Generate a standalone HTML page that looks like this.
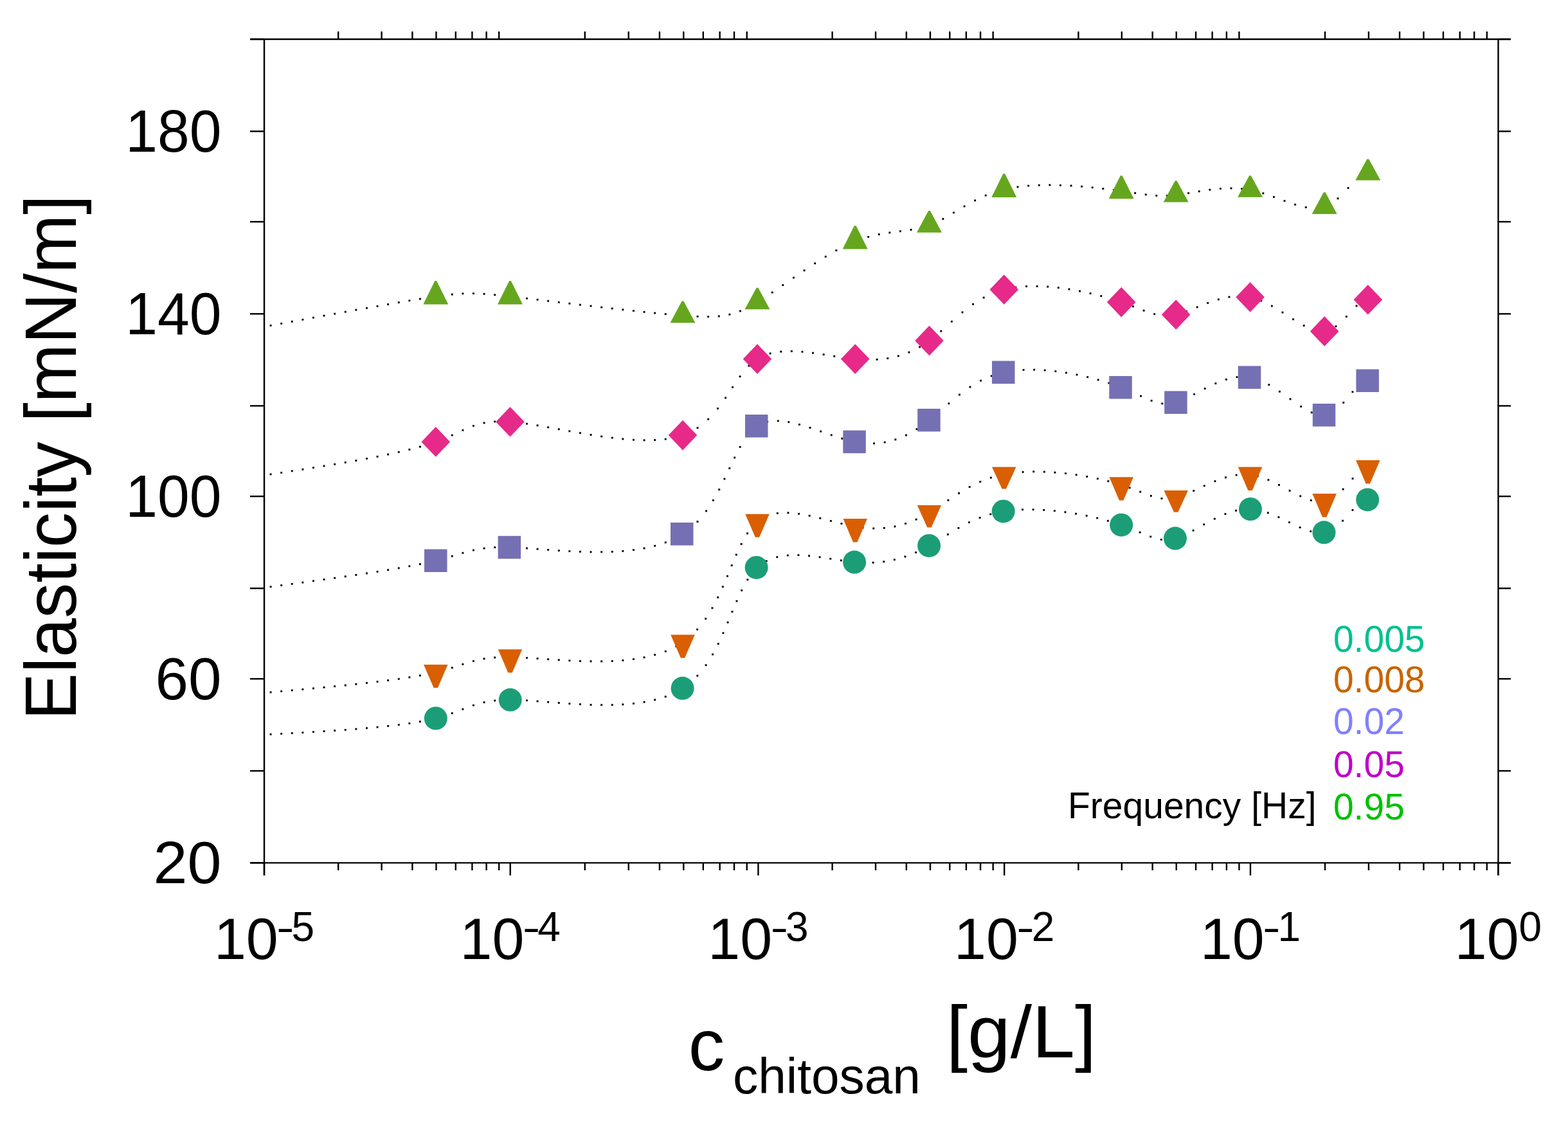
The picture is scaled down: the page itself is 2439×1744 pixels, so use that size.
<!DOCTYPE html>
<html><head><meta charset="utf-8"><title>Elasticity vs chitosan concentration</title>
<style>html,body{margin:0;padding:0;background:#fff;overflow:hidden}svg{display:block}</style></head>
<body>
<svg width="2439" height="1744" viewBox="0 0 2439 1744">
<rect width="2439" height="1744" fill="#fff"/>
<g fill="#000"><rect x="419.6" y="504.9" width="2.9" height="2.9"/><rect x="436.2" y="501.9" width="2.9" height="2.9"/><rect x="452.8" y="498.8" width="2.9" height="2.9"/><rect x="469.4" y="495.8" width="2.9" height="2.9"/><rect x="486.0" y="492.7" width="2.9" height="2.9"/><rect x="502.6" y="489.7" width="2.9" height="2.9"/><rect x="519.2" y="486.7" width="2.9" height="2.9"/><rect x="535.8" y="483.7" width="2.9" height="2.9"/><rect x="552.4" y="480.7" width="2.9" height="2.9"/><rect x="569.0" y="477.8" width="2.9" height="2.9"/><rect x="585.6" y="474.9" width="2.9" height="2.9"/><rect x="602.2" y="472.0" width="2.9" height="2.9"/><rect x="618.8" y="469.1" width="2.9" height="2.9"/><rect x="635.4" y="466.3" width="2.9" height="2.9"/><rect x="652.0" y="463.6" width="2.9" height="2.9"/><rect x="668.6" y="461.1" width="2.9" height="2.9"/><rect x="685.2" y="458.6" width="2.9" height="2.9"/><rect x="701.8" y="456.6" width="2.9" height="2.9"/><rect x="718.4" y="455.3" width="2.9" height="2.9"/><rect x="735.0" y="455.1" width="2.9" height="2.9"/><rect x="751.6" y="455.8" width="2.9" height="2.9"/><rect x="768.2" y="457.3" width="2.9" height="2.9"/><rect x="784.8" y="459.0" width="2.9" height="2.9"/><rect x="801.4" y="460.9" width="2.9" height="2.9"/><rect x="818.0" y="462.8" width="2.9" height="2.9"/><rect x="834.6" y="464.8" width="2.9" height="2.9"/><rect x="851.2" y="466.8" width="2.9" height="2.9"/><rect x="867.8" y="468.8" width="2.9" height="2.9"/><rect x="884.4" y="470.7" width="2.9" height="2.9"/><rect x="901.0" y="472.7" width="2.9" height="2.9"/><rect x="917.6" y="474.6" width="2.9" height="2.9"/><rect x="934.2" y="476.6" width="2.9" height="2.9"/><rect x="950.8" y="478.5" width="2.9" height="2.9"/><rect x="967.4" y="480.3" width="2.9" height="2.9"/><rect x="984.0" y="482.1" width="2.9" height="2.9"/><rect x="1000.6" y="483.9" width="2.9" height="2.9"/><rect x="1017.2" y="485.6" width="2.9" height="2.9"/><rect x="1033.8" y="487.2" width="2.9" height="2.9"/><rect x="1050.4" y="488.7" width="2.9" height="2.9"/><rect x="1067.0" y="490.0" width="2.9" height="2.9"/><rect x="1083.6" y="490.9" width="2.9" height="2.9"/><rect x="1100.2" y="491.3" width="2.9" height="2.9"/><rect x="1116.8" y="490.5" width="2.9" height="2.9"/><rect x="1133.4" y="487.8" width="2.9" height="2.9"/><rect x="1150.0" y="482.5" width="2.9" height="2.9"/><rect x="1166.6" y="474.5" width="2.9" height="2.9"/><rect x="1183.2" y="464.5" width="2.9" height="2.9"/><rect x="1199.8" y="453.5" width="2.9" height="2.9"/><rect x="1216.4" y="442.1" width="2.9" height="2.9"/><rect x="1233.0" y="430.6" width="2.9" height="2.9"/><rect x="1249.6" y="419.3" width="2.9" height="2.9"/><rect x="1266.2" y="408.3" width="2.9" height="2.9"/><rect x="1282.8" y="397.8" width="2.9" height="2.9"/><rect x="1299.4" y="388.2" width="2.9" height="2.9"/><rect x="1316.0" y="379.7" width="2.9" height="2.9"/><rect x="1332.6" y="372.5" width="2.9" height="2.9"/><rect x="1349.2" y="367.1" width="2.9" height="2.9"/><rect x="1365.8" y="363.2" width="2.9" height="2.9"/><rect x="1382.4" y="360.5" width="2.9" height="2.9"/><rect x="1399.0" y="358.3" width="2.9" height="2.9"/><rect x="1415.6" y="356.0" width="2.9" height="2.9"/><rect x="1432.2" y="352.7" width="2.9" height="2.9"/><rect x="1448.8" y="347.2" width="2.9" height="2.9"/><rect x="1465.4" y="339.1" width="2.9" height="2.9"/><rect x="1482.0" y="329.4" width="2.9" height="2.9"/><rect x="1498.6" y="319.5" width="2.9" height="2.9"/><rect x="1515.2" y="310.4" width="2.9" height="2.9"/><rect x="1531.8" y="302.6" width="2.9" height="2.9"/><rect x="1548.4" y="296.6" width="2.9" height="2.9"/><rect x="1565.0" y="292.2" width="2.9" height="2.9"/><rect x="1581.6" y="289.4" width="2.9" height="2.9"/><rect x="1598.2" y="287.6" width="2.9" height="2.9"/><rect x="1614.8" y="286.7" width="2.9" height="2.9"/><rect x="1631.4" y="286.4" width="2.9" height="2.9"/><rect x="1648.0" y="286.8" width="2.9" height="2.9"/><rect x="1664.6" y="287.5" width="2.9" height="2.9"/><rect x="1681.2" y="288.7" width="2.9" height="2.9"/><rect x="1697.8" y="290.3" width="2.9" height="2.9"/><rect x="1714.4" y="292.1" width="2.9" height="2.9"/><rect x="1731.0" y="294.2" width="2.9" height="2.9"/><rect x="1747.6" y="296.5" width="2.9" height="2.9"/><rect x="1764.2" y="299.0" width="2.9" height="2.9"/><rect x="1780.8" y="301.3" width="2.9" height="2.9"/><rect x="1797.4" y="302.9" width="2.9" height="2.9"/><rect x="1814.0" y="303.1" width="2.9" height="2.9"/><rect x="1830.6" y="301.7" width="2.9" height="2.9"/><rect x="1847.2" y="299.1" width="2.9" height="2.9"/><rect x="1863.8" y="296.3" width="2.9" height="2.9"/><rect x="1880.4" y="293.8" width="2.9" height="2.9"/><rect x="1897.0" y="292.1" width="2.9" height="2.9"/><rect x="1913.6" y="291.5" width="2.9" height="2.9"/><rect x="1930.2" y="292.3" width="2.9" height="2.9"/><rect x="1946.8" y="294.9" width="2.9" height="2.9"/><rect x="1963.4" y="299.3" width="2.9" height="2.9"/><rect x="1980.0" y="305.0" width="2.9" height="2.9"/><rect x="1996.6" y="311.0" width="2.9" height="2.9"/><rect x="2013.2" y="316.8" width="2.9" height="2.9"/><rect x="2029.8" y="321.1" width="2.9" height="2.9"/><rect x="2046.4" y="322.5" width="2.9" height="2.9"/><rect x="2063.0" y="318.6" width="2.9" height="2.9"/><rect x="2079.6" y="307.3" width="2.9" height="2.9"/><rect x="2095.6" y="291.0" width="2.9" height="2.9"/><rect x="2111.6" y="274.9" width="2.9" height="2.9"/><rect x="419.6" y="736.4" width="2.9" height="2.9"/><rect x="436.2" y="733.9" width="2.9" height="2.9"/><rect x="452.8" y="731.3" width="2.9" height="2.9"/><rect x="469.4" y="728.8" width="2.9" height="2.9"/><rect x="486.0" y="726.2" width="2.9" height="2.9"/><rect x="502.6" y="723.5" width="2.9" height="2.9"/><rect x="519.2" y="720.8" width="2.9" height="2.9"/><rect x="535.8" y="718.0" width="2.9" height="2.9"/><rect x="552.4" y="715.1" width="2.9" height="2.9"/><rect x="569.0" y="712.0" width="2.9" height="2.9"/><rect x="585.6" y="708.9" width="2.9" height="2.9"/><rect x="602.2" y="705.5" width="2.9" height="2.9"/><rect x="618.8" y="701.8" width="2.9" height="2.9"/><rect x="635.4" y="697.9" width="2.9" height="2.9"/><rect x="652.0" y="693.6" width="2.9" height="2.9"/><rect x="668.6" y="688.6" width="2.9" height="2.9"/><rect x="685.2" y="682.6" width="2.9" height="2.9"/><rect x="701.8" y="675.6" width="2.9" height="2.9"/><rect x="718.4" y="667.9" width="2.9" height="2.9"/><rect x="735.0" y="661.1" width="2.9" height="2.9"/><rect x="751.6" y="656.5" width="2.9" height="2.9"/><rect x="768.2" y="654.4" width="2.9" height="2.9"/><rect x="784.8" y="654.3" width="2.9" height="2.9"/><rect x="801.4" y="655.6" width="2.9" height="2.9"/><rect x="818.0" y="657.8" width="2.9" height="2.9"/><rect x="834.6" y="660.4" width="2.9" height="2.9"/><rect x="851.2" y="663.3" width="2.9" height="2.9"/><rect x="867.8" y="666.3" width="2.9" height="2.9"/><rect x="884.4" y="669.3" width="2.9" height="2.9"/><rect x="901.0" y="672.2" width="2.9" height="2.9"/><rect x="917.6" y="675.0" width="2.9" height="2.9"/><rect x="934.2" y="677.5" width="2.9" height="2.9"/><rect x="950.8" y="679.7" width="2.9" height="2.9"/><rect x="967.4" y="681.5" width="2.9" height="2.9"/><rect x="984.0" y="682.8" width="2.9" height="2.9"/><rect x="1000.6" y="683.4" width="2.9" height="2.9"/><rect x="1017.2" y="683.1" width="2.9" height="2.9"/><rect x="1033.8" y="681.7" width="2.9" height="2.9"/><rect x="1050.4" y="678.6" width="2.9" height="2.9"/><rect x="1067.0" y="673.2" width="2.9" height="2.9"/><rect x="1083.6" y="664.2" width="2.9" height="2.9"/><rect x="1100.2" y="650.7" width="2.9" height="2.9"/><rect x="1115.0" y="634.1" width="2.9" height="2.9"/><rect x="1127.1" y="617.5" width="2.9" height="2.9"/><rect x="1138.1" y="600.9" width="2.9" height="2.9"/><rect x="1149.6" y="584.3" width="2.9" height="2.9"/><rect x="1163.5" y="567.7" width="2.9" height="2.9"/><rect x="1180.1" y="555.0" width="2.9" height="2.9"/><rect x="1196.7" y="548.4" width="2.9" height="2.9"/><rect x="1213.3" y="545.6" width="2.9" height="2.9"/><rect x="1229.9" y="545.0" width="2.9" height="2.9"/><rect x="1246.5" y="545.8" width="2.9" height="2.9"/><rect x="1263.1" y="547.7" width="2.9" height="2.9"/><rect x="1279.7" y="550.1" width="2.9" height="2.9"/><rect x="1296.3" y="552.7" width="2.9" height="2.9"/><rect x="1312.9" y="555.2" width="2.9" height="2.9"/><rect x="1329.5" y="557.1" width="2.9" height="2.9"/><rect x="1346.1" y="558.1" width="2.9" height="2.9"/><rect x="1362.7" y="557.8" width="2.9" height="2.9"/><rect x="1379.3" y="556.0" width="2.9" height="2.9"/><rect x="1395.9" y="552.4" width="2.9" height="2.9"/><rect x="1412.5" y="546.6" width="2.9" height="2.9"/><rect x="1429.1" y="538.4" width="2.9" height="2.9"/><rect x="1445.7" y="527.3" width="2.9" height="2.9"/><rect x="1462.3" y="513.7" width="2.9" height="2.9"/><rect x="1478.9" y="498.8" width="2.9" height="2.9"/><rect x="1495.5" y="484.4" width="2.9" height="2.9"/><rect x="1512.1" y="471.8" width="2.9" height="2.9"/><rect x="1528.7" y="461.6" width="2.9" height="2.9"/><rect x="1545.3" y="453.9" width="2.9" height="2.9"/><rect x="1561.9" y="448.7" width="2.9" height="2.9"/><rect x="1578.5" y="445.6" width="2.9" height="2.9"/><rect x="1595.1" y="444.1" width="2.9" height="2.9"/><rect x="1611.7" y="443.9" width="2.9" height="2.9"/><rect x="1628.3" y="444.6" width="2.9" height="2.9"/><rect x="1644.9" y="446.2" width="2.9" height="2.9"/><rect x="1661.5" y="448.5" width="2.9" height="2.9"/><rect x="1678.1" y="451.5" width="2.9" height="2.9"/><rect x="1694.7" y="455.0" width="2.9" height="2.9"/><rect x="1711.3" y="459.1" width="2.9" height="2.9"/><rect x="1727.9" y="463.9" width="2.9" height="2.9"/><rect x="1744.5" y="469.2" width="2.9" height="2.9"/><rect x="1761.1" y="475.3" width="2.9" height="2.9"/><rect x="1777.7" y="481.7" width="2.9" height="2.9"/><rect x="1794.3" y="487.2" width="2.9" height="2.9"/><rect x="1810.9" y="489.8" width="2.9" height="2.9"/><rect x="1827.5" y="488.1" width="2.9" height="2.9"/><rect x="1844.1" y="482.9" width="2.9" height="2.9"/><rect x="1860.7" y="476.4" width="2.9" height="2.9"/><rect x="1877.3" y="469.9" width="2.9" height="2.9"/><rect x="1893.9" y="464.4" width="2.9" height="2.9"/><rect x="1910.5" y="460.6" width="2.9" height="2.9"/><rect x="1927.1" y="459.2" width="2.9" height="2.9"/><rect x="1943.7" y="461.0" width="2.9" height="2.9"/><rect x="1960.3" y="466.4" width="2.9" height="2.9"/><rect x="1976.9" y="474.6" width="2.9" height="2.9"/><rect x="1993.5" y="484.6" width="2.9" height="2.9"/><rect x="2010.1" y="495.3" width="2.9" height="2.9"/><rect x="2026.7" y="505.2" width="2.9" height="2.9"/><rect x="2043.3" y="512.3" width="2.9" height="2.9"/><rect x="2059.9" y="513.8" width="2.9" height="2.9"/><rect x="2076.5" y="506.2" width="2.9" height="2.9"/><rect x="2092.9" y="491.1" width="2.9" height="2.9"/><rect x="2108.6" y="474.5" width="2.9" height="2.9"/><rect x="2125.2" y="464.8" width="2.9" height="2.9"/><rect x="419.6" y="911.4" width="2.9" height="2.9"/><rect x="436.2" y="909.2" width="2.9" height="2.9"/><rect x="452.8" y="907.0" width="2.9" height="2.9"/><rect x="469.4" y="904.7" width="2.9" height="2.9"/><rect x="486.0" y="902.4" width="2.9" height="2.9"/><rect x="502.6" y="900.1" width="2.9" height="2.9"/><rect x="519.2" y="897.8" width="2.9" height="2.9"/><rect x="535.8" y="895.4" width="2.9" height="2.9"/><rect x="552.4" y="893.0" width="2.9" height="2.9"/><rect x="569.0" y="890.5" width="2.9" height="2.9"/><rect x="585.6" y="887.9" width="2.9" height="2.9"/><rect x="602.2" y="885.2" width="2.9" height="2.9"/><rect x="618.8" y="882.4" width="2.9" height="2.9"/><rect x="635.4" y="879.4" width="2.9" height="2.9"/><rect x="652.0" y="876.2" width="2.9" height="2.9"/><rect x="668.6" y="872.6" width="2.9" height="2.9"/><rect x="685.2" y="868.5" width="2.9" height="2.9"/><rect x="701.8" y="863.8" width="2.9" height="2.9"/><rect x="718.4" y="858.8" width="2.9" height="2.9"/><rect x="735.0" y="854.5" width="2.9" height="2.9"/><rect x="751.6" y="851.6" width="2.9" height="2.9"/><rect x="768.2" y="850.1" width="2.9" height="2.9"/><rect x="784.8" y="849.9" width="2.9" height="2.9"/><rect x="801.4" y="850.4" width="2.9" height="2.9"/><rect x="818.0" y="851.5" width="2.9" height="2.9"/><rect x="834.6" y="852.7" width="2.9" height="2.9"/><rect x="851.2" y="853.9" width="2.9" height="2.9"/><rect x="867.8" y="855.1" width="2.9" height="2.9"/><rect x="884.4" y="856.1" width="2.9" height="2.9"/><rect x="901.0" y="856.8" width="2.9" height="2.9"/><rect x="917.6" y="857.3" width="2.9" height="2.9"/><rect x="934.2" y="857.3" width="2.9" height="2.9"/><rect x="950.8" y="856.9" width="2.9" height="2.9"/><rect x="967.4" y="855.9" width="2.9" height="2.9"/><rect x="984.0" y="854.1" width="2.9" height="2.9"/><rect x="1000.6" y="851.5" width="2.9" height="2.9"/><rect x="1017.2" y="847.8" width="2.9" height="2.9"/><rect x="1033.8" y="842.5" width="2.9" height="2.9"/><rect x="1050.4" y="835.3" width="2.9" height="2.9"/><rect x="1067.0" y="824.9" width="2.9" height="2.9"/><rect x="1083.5" y="810.1" width="2.9" height="2.9"/><rect x="1097.1" y="793.5" width="2.9" height="2.9"/><rect x="1108.0" y="776.9" width="2.9" height="2.9"/><rect x="1117.3" y="760.2" width="2.9" height="2.9"/><rect x="1125.5" y="743.6" width="2.9" height="2.9"/><rect x="1133.3" y="727.0" width="2.9" height="2.9"/><rect x="1141.2" y="710.5" width="2.9" height="2.9"/><rect x="1149.7" y="693.9" width="2.9" height="2.9"/><rect x="1160.2" y="677.3" width="2.9" height="2.9"/><rect x="1175.6" y="661.9" width="2.9" height="2.9"/><rect x="1192.2" y="654.8" width="2.9" height="2.9"/><rect x="1208.8" y="653.4" width="2.9" height="2.9"/><rect x="1225.4" y="655.2" width="2.9" height="2.9"/><rect x="1242.0" y="659.0" width="2.9" height="2.9"/><rect x="1258.6" y="664.0" width="2.9" height="2.9"/><rect x="1275.2" y="669.7" width="2.9" height="2.9"/><rect x="1291.8" y="675.4" width="2.9" height="2.9"/><rect x="1308.4" y="680.8" width="2.9" height="2.9"/><rect x="1325.0" y="685.2" width="2.9" height="2.9"/><rect x="1341.6" y="687.8" width="2.9" height="2.9"/><rect x="1358.1" y="688.4" width="2.9" height="2.9"/><rect x="1374.8" y="686.6" width="2.9" height="2.9"/><rect x="1391.4" y="682.4" width="2.9" height="2.9"/><rect x="1408.0" y="675.6" width="2.9" height="2.9"/><rect x="1424.6" y="666.2" width="2.9" height="2.9"/><rect x="1441.2" y="654.4" width="2.9" height="2.9"/><rect x="1457.8" y="640.7" width="2.9" height="2.9"/><rect x="1474.4" y="626.3" width="2.9" height="2.9"/><rect x="1491.0" y="612.6" width="2.9" height="2.9"/><rect x="1507.5" y="600.6" width="2.9" height="2.9"/><rect x="1524.1" y="590.8" width="2.9" height="2.9"/><rect x="1540.8" y="583.5" width="2.9" height="2.9"/><rect x="1557.4" y="578.4" width="2.9" height="2.9"/><rect x="1574.0" y="575.4" width="2.9" height="2.9"/><rect x="1590.6" y="574.0" width="2.9" height="2.9"/><rect x="1607.2" y="573.8" width="2.9" height="2.9"/><rect x="1623.8" y="574.6" width="2.9" height="2.9"/><rect x="1640.4" y="576.2" width="2.9" height="2.9"/><rect x="1657.0" y="578.5" width="2.9" height="2.9"/><rect x="1673.6" y="581.5" width="2.9" height="2.9"/><rect x="1690.2" y="585.2" width="2.9" height="2.9"/><rect x="1706.7" y="589.5" width="2.9" height="2.9"/><rect x="1723.4" y="594.5" width="2.9" height="2.9"/><rect x="1740.0" y="600.3" width="2.9" height="2.9"/><rect x="1756.5" y="607.1" width="2.9" height="2.9"/><rect x="1773.1" y="614.7" width="2.9" height="2.9"/><rect x="1789.7" y="621.9" width="2.9" height="2.9"/><rect x="1806.4" y="626.4" width="2.9" height="2.9"/><rect x="1823.0" y="625.8" width="2.9" height="2.9"/><rect x="1839.6" y="620.2" width="2.9" height="2.9"/><rect x="1856.2" y="611.9" width="2.9" height="2.9"/><rect x="1872.8" y="603.1" width="2.9" height="2.9"/><rect x="1889.4" y="595.1" width="2.9" height="2.9"/><rect x="1906.0" y="588.9" width="2.9" height="2.9"/><rect x="1922.6" y="585.2" width="2.9" height="2.9"/><rect x="1939.2" y="585.1" width="2.9" height="2.9"/><rect x="1955.8" y="589.2" width="2.9" height="2.9"/><rect x="1972.4" y="597.1" width="2.9" height="2.9"/><rect x="1989.0" y="607.7" width="2.9" height="2.9"/><rect x="2005.6" y="619.4" width="2.9" height="2.9"/><rect x="2022.2" y="631.0" width="2.9" height="2.9"/><rect x="2038.8" y="640.3" width="2.9" height="2.9"/><rect x="2055.4" y="644.5" width="2.9" height="2.9"/><rect x="2072.0" y="639.4" width="2.9" height="2.9"/><rect x="2088.3" y="624.9" width="2.9" height="2.9"/><rect x="2102.5" y="608.3" width="2.9" height="2.9"/><rect x="2118.3" y="593.3" width="2.9" height="2.9"/><rect x="419.6" y="1075.5" width="2.9" height="2.9"/><rect x="436.2" y="1074.0" width="2.9" height="2.9"/><rect x="452.8" y="1072.5" width="2.9" height="2.9"/><rect x="469.4" y="1071.0" width="2.9" height="2.9"/><rect x="486.0" y="1069.5" width="2.9" height="2.9"/><rect x="502.6" y="1067.9" width="2.9" height="2.9"/><rect x="519.2" y="1066.3" width="2.9" height="2.9"/><rect x="535.8" y="1064.7" width="2.9" height="2.9"/><rect x="552.4" y="1062.9" width="2.9" height="2.9"/><rect x="569.0" y="1061.1" width="2.9" height="2.9"/><rect x="585.6" y="1059.1" width="2.9" height="2.9"/><rect x="602.2" y="1057.0" width="2.9" height="2.9"/><rect x="618.8" y="1054.8" width="2.9" height="2.9"/><rect x="635.4" y="1052.3" width="2.9" height="2.9"/><rect x="652.0" y="1049.5" width="2.9" height="2.9"/><rect x="668.6" y="1046.2" width="2.9" height="2.9"/><rect x="685.2" y="1042.3" width="2.9" height="2.9"/><rect x="701.8" y="1037.4" width="2.9" height="2.9"/><rect x="718.4" y="1032.0" width="2.9" height="2.9"/><rect x="735.0" y="1027.0" width="2.9" height="2.9"/><rect x="751.6" y="1023.4" width="2.9" height="2.9"/><rect x="768.2" y="1021.5" width="2.9" height="2.9"/><rect x="784.8" y="1020.8" width="2.9" height="2.9"/><rect x="801.4" y="1021.1" width="2.9" height="2.9"/><rect x="818.0" y="1022.0" width="2.9" height="2.9"/><rect x="834.6" y="1023.1" width="2.9" height="2.9"/><rect x="851.2" y="1024.2" width="2.9" height="2.9"/><rect x="867.8" y="1025.3" width="2.9" height="2.9"/><rect x="884.4" y="1026.3" width="2.9" height="2.9"/><rect x="901.0" y="1027.0" width="2.9" height="2.9"/><rect x="917.6" y="1027.4" width="2.9" height="2.9"/><rect x="934.2" y="1027.4" width="2.9" height="2.9"/><rect x="950.8" y="1027.0" width="2.9" height="2.9"/><rect x="967.4" y="1025.9" width="2.9" height="2.9"/><rect x="984.0" y="1024.0" width="2.9" height="2.9"/><rect x="1000.6" y="1021.3" width="2.9" height="2.9"/><rect x="1017.2" y="1017.3" width="2.9" height="2.9"/><rect x="1033.8" y="1011.8" width="2.9" height="2.9"/><rect x="1050.4" y="1004.2" width="2.9" height="2.9"/><rect x="1067.0" y="993.2" width="2.9" height="2.9"/><rect x="1083.2" y="977.8" width="2.9" height="2.9"/><rect x="1096.2" y="961.1" width="2.9" height="2.9"/><rect x="1106.5" y="944.5" width="2.9" height="2.9"/><rect x="1115.2" y="927.9" width="2.9" height="2.9"/><rect x="1122.9" y="911.4" width="2.9" height="2.9"/><rect x="1130.0" y="894.8" width="2.9" height="2.9"/><rect x="1136.8" y="878.2" width="2.9" height="2.9"/><rect x="1143.9" y="861.6" width="2.9" height="2.9"/><rect x="1151.7" y="844.9" width="2.9" height="2.9"/><rect x="1161.1" y="828.4" width="2.9" height="2.9"/><rect x="1174.7" y="811.9" width="2.9" height="2.9"/><rect x="1191.3" y="801.4" width="2.9" height="2.9"/><rect x="1207.9" y="797.1" width="2.9" height="2.9"/><rect x="1224.5" y="796.4" width="2.9" height="2.9"/><rect x="1241.1" y="797.9" width="2.9" height="2.9"/><rect x="1257.7" y="800.9" width="2.9" height="2.9"/><rect x="1274.3" y="804.7" width="2.9" height="2.9"/><rect x="1290.9" y="809.0" width="2.9" height="2.9"/><rect x="1307.5" y="813.2" width="2.9" height="2.9"/><rect x="1324.1" y="816.9" width="2.9" height="2.9"/><rect x="1340.7" y="819.5" width="2.9" height="2.9"/><rect x="1357.3" y="820.6" width="2.9" height="2.9"/><rect x="1373.9" y="820.0" width="2.9" height="2.9"/><rect x="1390.5" y="817.6" width="2.9" height="2.9"/><rect x="1407.1" y="813.2" width="2.9" height="2.9"/><rect x="1423.7" y="806.7" width="2.9" height="2.9"/><rect x="1440.3" y="798.2" width="2.9" height="2.9"/><rect x="1456.9" y="787.9" width="2.9" height="2.9"/><rect x="1473.5" y="776.8" width="2.9" height="2.9"/><rect x="1490.1" y="765.9" width="2.9" height="2.9"/><rect x="1506.7" y="756.1" width="2.9" height="2.9"/><rect x="1523.3" y="748.0" width="2.9" height="2.9"/><rect x="1539.9" y="741.7" width="2.9" height="2.9"/><rect x="1556.5" y="737.2" width="2.9" height="2.9"/><rect x="1573.1" y="734.4" width="2.9" height="2.9"/><rect x="1589.7" y="732.9" width="2.9" height="2.9"/><rect x="1606.3" y="732.3" width="2.9" height="2.9"/><rect x="1622.9" y="732.6" width="2.9" height="2.9"/><rect x="1639.5" y="733.6" width="2.9" height="2.9"/><rect x="1656.1" y="735.1" width="2.9" height="2.9"/><rect x="1672.7" y="737.3" width="2.9" height="2.9"/><rect x="1689.3" y="740.0" width="2.9" height="2.9"/><rect x="1705.9" y="743.3" width="2.9" height="2.9"/><rect x="1722.5" y="747.2" width="2.9" height="2.9"/><rect x="1739.1" y="751.8" width="2.9" height="2.9"/><rect x="1755.7" y="757.4" width="2.9" height="2.9"/><rect x="1772.3" y="763.7" width="2.9" height="2.9"/><rect x="1788.9" y="770.0" width="2.9" height="2.9"/><rect x="1805.5" y="774.1" width="2.9" height="2.9"/><rect x="1822.1" y="774.0" width="2.9" height="2.9"/><rect x="1838.7" y="769.3" width="2.9" height="2.9"/><rect x="1855.3" y="762.1" width="2.9" height="2.9"/><rect x="1871.9" y="754.4" width="2.9" height="2.9"/><rect x="1888.5" y="747.2" width="2.9" height="2.9"/><rect x="1905.1" y="741.3" width="2.9" height="2.9"/><rect x="1921.7" y="737.6" width="2.9" height="2.9"/><rect x="1938.3" y="736.7" width="2.9" height="2.9"/><rect x="1954.9" y="739.4" width="2.9" height="2.9"/><rect x="1971.5" y="745.2" width="2.9" height="2.9"/><rect x="1988.1" y="753.0" width="2.9" height="2.9"/><rect x="2004.7" y="761.9" width="2.9" height="2.9"/><rect x="2021.3" y="770.4" width="2.9" height="2.9"/><rect x="2037.9" y="777.0" width="2.9" height="2.9"/><rect x="2054.5" y="779.3" width="2.9" height="2.9"/><rect x="2071.1" y="773.8" width="2.9" height="2.9"/><rect x="2087.7" y="759.7" width="2.9" height="2.9"/><rect x="2102.6" y="743.1" width="2.9" height="2.9"/><rect x="2118.9" y="728.8" width="2.9" height="2.9"/><rect x="419.6" y="1141.0" width="2.9" height="2.9"/><rect x="436.2" y="1140.1" width="2.9" height="2.9"/><rect x="452.8" y="1139.2" width="2.9" height="2.9"/><rect x="469.4" y="1138.3" width="2.9" height="2.9"/><rect x="486.0" y="1137.3" width="2.9" height="2.9"/><rect x="502.6" y="1136.2" width="2.9" height="2.9"/><rect x="519.2" y="1135.2" width="2.9" height="2.9"/><rect x="535.8" y="1134.0" width="2.9" height="2.9"/><rect x="552.4" y="1132.7" width="2.9" height="2.9"/><rect x="569.0" y="1131.3" width="2.9" height="2.9"/><rect x="585.6" y="1129.8" width="2.9" height="2.9"/><rect x="602.2" y="1128.1" width="2.9" height="2.9"/><rect x="618.8" y="1126.1" width="2.9" height="2.9"/><rect x="635.4" y="1123.9" width="2.9" height="2.9"/><rect x="652.0" y="1121.2" width="2.9" height="2.9"/><rect x="668.6" y="1117.9" width="2.9" height="2.9"/><rect x="685.2" y="1113.7" width="2.9" height="2.9"/><rect x="701.8" y="1108.2" width="2.9" height="2.9"/><rect x="718.4" y="1101.9" width="2.9" height="2.9"/><rect x="735.0" y="1095.8" width="2.9" height="2.9"/><rect x="751.6" y="1091.2" width="2.9" height="2.9"/><rect x="768.2" y="1088.5" width="2.9" height="2.9"/><rect x="784.8" y="1087.4" width="2.9" height="2.9"/><rect x="801.4" y="1087.5" width="2.9" height="2.9"/><rect x="818.0" y="1088.3" width="2.9" height="2.9"/><rect x="834.6" y="1089.5" width="2.9" height="2.9"/><rect x="851.2" y="1090.8" width="2.9" height="2.9"/><rect x="867.8" y="1092.1" width="2.9" height="2.9"/><rect x="884.4" y="1093.3" width="2.9" height="2.9"/><rect x="901.0" y="1094.2" width="2.9" height="2.9"/><rect x="917.6" y="1095.0" width="2.9" height="2.9"/><rect x="934.2" y="1095.3" width="2.9" height="2.9"/><rect x="950.8" y="1095.2" width="2.9" height="2.9"/><rect x="967.4" y="1094.5" width="2.9" height="2.9"/><rect x="984.0" y="1093.1" width="2.9" height="2.9"/><rect x="1000.6" y="1090.8" width="2.9" height="2.9"/><rect x="1017.2" y="1087.3" width="2.9" height="2.9"/><rect x="1033.8" y="1082.4" width="2.9" height="2.9"/><rect x="1050.4" y="1075.2" width="2.9" height="2.9"/><rect x="1067.0" y="1064.9" width="2.9" height="2.9"/><rect x="1083.4" y="1049.8" width="2.9" height="2.9"/><rect x="1096.6" y="1033.3" width="2.9" height="2.9"/><rect x="1107.1" y="1016.6" width="2.9" height="2.9"/><rect x="1115.8" y="1000.1" width="2.9" height="2.9"/><rect x="1123.5" y="983.4" width="2.9" height="2.9"/><rect x="1130.6" y="966.8" width="2.9" height="2.9"/><rect x="1137.5" y="950.2" width="2.9" height="2.9"/><rect x="1144.5" y="933.7" width="2.9" height="2.9"/><rect x="1152.2" y="917.1" width="2.9" height="2.9"/><rect x="1161.4" y="900.4" width="2.9" height="2.9"/><rect x="1174.1" y="883.8" width="2.9" height="2.9"/><rect x="1190.7" y="871.4" width="2.9" height="2.9"/><rect x="1207.3" y="865.2" width="2.9" height="2.9"/><rect x="1223.9" y="862.6" width="2.9" height="2.9"/><rect x="1240.5" y="862.2" width="2.9" height="2.9"/><rect x="1257.1" y="863.3" width="2.9" height="2.9"/><rect x="1273.7" y="865.3" width="2.9" height="2.9"/><rect x="1290.3" y="867.8" width="2.9" height="2.9"/><rect x="1306.9" y="870.4" width="2.9" height="2.9"/><rect x="1323.5" y="872.6" width="2.9" height="2.9"/><rect x="1340.1" y="873.9" width="2.9" height="2.9"/><rect x="1356.7" y="873.8" width="2.9" height="2.9"/><rect x="1373.3" y="872.4" width="2.9" height="2.9"/><rect x="1389.9" y="869.3" width="2.9" height="2.9"/><rect x="1406.5" y="864.5" width="2.9" height="2.9"/><rect x="1423.1" y="858.0" width="2.9" height="2.9"/><rect x="1439.7" y="849.9" width="2.9" height="2.9"/><rect x="1456.3" y="840.2" width="2.9" height="2.9"/><rect x="1472.9" y="830.0" width="2.9" height="2.9"/><rect x="1489.5" y="820.0" width="2.9" height="2.9"/><rect x="1506.1" y="811.2" width="2.9" height="2.9"/><rect x="1522.7" y="804.0" width="2.9" height="2.9"/><rect x="1539.3" y="798.5" width="2.9" height="2.9"/><rect x="1555.9" y="794.7" width="2.9" height="2.9"/><rect x="1572.5" y="792.4" width="2.9" height="2.9"/><rect x="1589.1" y="791.4" width="2.9" height="2.9"/><rect x="1605.7" y="791.3" width="2.9" height="2.9"/><rect x="1622.3" y="792.0" width="2.9" height="2.9"/><rect x="1638.9" y="793.3" width="2.9" height="2.9"/><rect x="1655.5" y="795.3" width="2.9" height="2.9"/><rect x="1672.1" y="797.8" width="2.9" height="2.9"/><rect x="1688.7" y="800.9" width="2.9" height="2.9"/><rect x="1705.3" y="804.5" width="2.9" height="2.9"/><rect x="1721.9" y="808.8" width="2.9" height="2.9"/><rect x="1738.5" y="813.8" width="2.9" height="2.9"/><rect x="1755.1" y="819.8" width="2.9" height="2.9"/><rect x="1771.7" y="826.7" width="2.9" height="2.9"/><rect x="1788.3" y="833.5" width="2.9" height="2.9"/><rect x="1804.9" y="838.0" width="2.9" height="2.9"/><rect x="1821.5" y="837.7" width="2.9" height="2.9"/><rect x="1838.1" y="832.2" width="2.9" height="2.9"/><rect x="1854.7" y="823.8" width="2.9" height="2.9"/><rect x="1871.3" y="814.5" width="2.9" height="2.9"/><rect x="1887.9" y="805.7" width="2.9" height="2.9"/><rect x="1904.5" y="798.2" width="2.9" height="2.9"/><rect x="1921.1" y="792.9" width="2.9" height="2.9"/><rect x="1937.7" y="790.5" width="2.9" height="2.9"/><rect x="1954.3" y="791.8" width="2.9" height="2.9"/><rect x="1970.9" y="796.4" width="2.9" height="2.9"/><rect x="1987.5" y="803.2" width="2.9" height="2.9"/><rect x="2004.1" y="811.2" width="2.9" height="2.9"/><rect x="2020.7" y="819.1" width="2.9" height="2.9"/><rect x="2037.3" y="825.2" width="2.9" height="2.9"/><rect x="2053.9" y="827.5" width="2.9" height="2.9"/><rect x="2070.5" y="822.2" width="2.9" height="2.9"/><rect x="2087.1" y="808.7" width="2.9" height="2.9"/><rect x="2102.5" y="792.1" width="2.9" height="2.9"/><rect x="2118.9" y="778.0" width="2.9" height="2.9"/></g>
<g><polygon fill="#66a61e" points="676.4,437.0 679.2,437.0 697.3,473.5 658.3,473.5"/><polygon fill="#66a61e" points="792.1,437.0 794.9,437.0 813.0,473.4 774.0,473.4"/><polygon fill="#66a61e" points="1060.6,468.4 1063.4,468.4 1081.5,502.2 1042.5,502.2"/><polygon fill="#66a61e" points="1176.6,447.7 1179.4,447.7 1197.5,481.3 1158.5,481.3"/><polygon fill="#66a61e" points="1328.8,351.2 1331.6,351.2 1349.7,387.6 1310.7,387.6"/><polygon fill="#66a61e" points="1444.1,328.0 1446.9,328.0 1465.0,361.8 1426.0,361.8"/><polygon fill="#66a61e" points="1560.4,270.3 1563.2,270.3 1581.3,306.9 1542.3,306.9"/><polygon fill="#66a61e" points="1742.8,273.2 1745.6,273.2 1763.7,309.3 1724.7,309.3"/><polygon fill="#66a61e" points="1827.8,281.2 1830.6,281.2 1848.7,314.6 1809.7,314.6"/><polygon fill="#66a61e" points="1943.2,273.2 1946.0,273.2 1964.1,306.8 1925.1,306.8"/><polygon fill="#66a61e" points="2058.8,299.2 2061.6,299.2 2079.7,333.0 2040.7,333.0"/><polygon fill="#66a61e" points="2126.4,247.4 2129.2,247.4 2147.3,280.6 2108.3,280.6"/><polygon fill="#d95f02" points="659.0,1033.9 696.5,1033.9 681.0,1070.0 674.6,1070.0"/><polygon fill="#d95f02" points="774.8,1010.2 812.2,1010.2 796.7,1046.5 790.3,1046.5"/><polygon fill="#d95f02" points="1043.2,987.4 1080.8,987.4 1065.2,1023.4 1058.8,1023.4"/><polygon fill="#d95f02" points="1159.2,799.7 1196.8,799.7 1181.2,835.8 1174.8,835.8"/><polygon fill="#d95f02" points="1311.5,807.1 1349.0,807.1 1333.4,843.6 1327.0,843.6"/><polygon fill="#d95f02" points="1426.8,786.0 1464.2,786.0 1448.7,820.4 1442.3,820.4"/><polygon fill="#d95f02" points="1543.0,726.6 1580.5,726.6 1565.0,760.5 1558.6,760.5"/><polygon fill="#d95f02" points="1725.5,742.3 1763.0,742.3 1747.4,778.6 1741.0,778.6"/><polygon fill="#d95f02" points="1810.5,763.0 1848.0,763.0 1832.4,796.8 1826.0,796.8"/><polygon fill="#d95f02" points="1925.8,726.4 1963.3,726.4 1947.8,763.0 1941.4,763.0"/><polygon fill="#d95f02" points="2041.4,768.1 2078.9,768.1 2063.4,804.6 2057.0,804.6"/><polygon fill="#d95f02" points="2109.1,716.0 2146.6,716.0 2131.0,752.5 2124.6,752.5"/><polygon fill="#e7298a" points="677.8,664.1 700.1,687.4 677.8,710.7 655.5,687.4"/><polygon fill="#e7298a" points="793.5,632.9 815.8,656.2 793.5,679.5 771.2,656.2"/><polygon fill="#e7298a" points="1062.0,653.8 1084.3,677.1 1062.0,700.4 1039.7,677.1"/><polygon fill="#e7298a" points="1178.0,535.2 1200.3,558.5 1178.0,581.8 1155.7,558.5"/><polygon fill="#e7298a" points="1330.2,535.2 1352.5,558.5 1330.2,581.8 1307.9,558.5"/><polygon fill="#e7298a" points="1445.5,506.7 1467.8,530.0 1445.5,553.3 1423.2,530.0"/><polygon fill="#e7298a" points="1561.8,427.2 1584.1,450.5 1561.8,473.8 1539.5,450.5"/><polygon fill="#e7298a" points="1744.2,446.8 1766.5,470.1 1744.2,493.4 1721.9,470.1"/><polygon fill="#e7298a" points="1829.2,466.2 1851.5,489.5 1829.2,512.8 1806.9,489.5"/><polygon fill="#e7298a" points="1944.6,439.0 1966.9,462.3 1944.6,485.6 1922.3,462.3"/><polygon fill="#e7298a" points="2060.2,492.1 2082.5,515.4 2060.2,538.7 2037.9,515.4"/><polygon fill="#e7298a" points="2127.8,442.9 2150.1,466.2 2127.8,489.5 2105.5,466.2"/><rect fill="#7570b3" x="660.0" y="854.5" width="35.5" height="35.5"/><rect fill="#7570b3" x="774.6" y="833.8" width="35.5" height="35.5"/><rect fill="#7570b3" x="1043.0" y="813.0" width="35.5" height="35.5"/><rect fill="#7570b3" x="1159.0" y="645.0" width="35.5" height="35.5"/><rect fill="#7570b3" x="1311.3" y="669.6" width="35.5" height="35.5"/><rect fill="#7570b3" x="1427.2" y="635.9" width="35.5" height="35.5"/><rect fill="#7570b3" x="1543.0" y="561.5" width="35.5" height="35.5"/><rect fill="#7570b3" x="1725.3" y="585.0" width="35.5" height="35.5"/><rect fill="#7570b3" x="1811.2" y="608.4" width="35.5" height="35.5"/><rect fill="#7570b3" x="1925.8" y="569.4" width="35.5" height="35.5"/><rect fill="#7570b3" x="2041.8" y="628.0" width="35.5" height="35.5"/><rect fill="#7570b3" x="2109.4" y="574.5" width="35.5" height="35.5"/><circle fill="#1b9e77" cx="677.8" cy="1117.5" r="18"/><circle fill="#1b9e77" cx="793.7" cy="1088.8" r="18"/><circle fill="#1b9e77" cx="1061.6" cy="1070.8" r="18"/><circle fill="#1b9e77" cx="1176.6" cy="882.9" r="18"/><circle fill="#1b9e77" cx="1329.1" cy="874.6" r="18"/><circle fill="#1b9e77" cx="1445.1" cy="848.9" r="18"/><circle fill="#1b9e77" cx="1560.7" cy="795.4" r="18"/><circle fill="#1b9e77" cx="1744.2" cy="816.7" r="18"/><circle fill="#1b9e77" cx="1828.0" cy="837.6" r="18"/><circle fill="#1b9e77" cx="1945.0" cy="792.0" r="18"/><circle fill="#1b9e77" cx="2059.5" cy="828.3" r="18"/><circle fill="#1b9e77" cx="2127.2" cy="777.4" r="18"/></g>
<g stroke="#000" stroke-linecap="butt"><line x1="389.00" y1="61.00" x2="2350.00" y2="61.00" stroke-width="2.4"/><line x1="389.00" y1="1342.40" x2="2350.00" y2="1342.40" stroke-width="2.4"/><line x1="411.00" y1="61.00" x2="411.00" y2="1362.00" stroke-width="2.4"/><line x1="2330.50" y1="61.00" x2="2330.50" y2="1362.00" stroke-width="2.4"/><line x1="389.00" y1="1342.40" x2="411.00" y2="1342.40" stroke-width="2.4"/><line x1="2330.50" y1="1342.40" x2="2350.00" y2="1342.40" stroke-width="2.4"/><line x1="389.00" y1="1199.30" x2="411.00" y2="1199.30" stroke-width="2.4"/><line x1="2330.50" y1="1199.30" x2="2350.00" y2="1199.30" stroke-width="2.4"/><line x1="389.00" y1="1056.10" x2="411.00" y2="1056.10" stroke-width="2.4"/><line x1="2330.50" y1="1056.10" x2="2350.00" y2="1056.10" stroke-width="2.4"/><line x1="389.00" y1="915.30" x2="411.00" y2="915.30" stroke-width="2.4"/><line x1="2330.50" y1="915.30" x2="2350.00" y2="915.30" stroke-width="2.4"/><line x1="389.00" y1="772.20" x2="411.00" y2="772.20" stroke-width="2.4"/><line x1="2330.50" y1="772.20" x2="2350.00" y2="772.20" stroke-width="2.4"/><line x1="389.00" y1="631.40" x2="411.00" y2="631.40" stroke-width="2.4"/><line x1="2330.50" y1="631.40" x2="2350.00" y2="631.40" stroke-width="2.4"/><line x1="389.00" y1="488.30" x2="411.00" y2="488.30" stroke-width="2.4"/><line x1="2330.50" y1="488.30" x2="2350.00" y2="488.30" stroke-width="2.4"/><line x1="389.00" y1="345.00" x2="411.00" y2="345.00" stroke-width="2.4"/><line x1="2330.50" y1="345.00" x2="2350.00" y2="345.00" stroke-width="2.4"/><line x1="389.00" y1="204.30" x2="411.00" y2="204.30" stroke-width="2.4"/><line x1="2330.50" y1="204.30" x2="2350.00" y2="204.30" stroke-width="2.4"/><line x1="389.00" y1="61.00" x2="411.00" y2="61.00" stroke-width="2.4"/><line x1="2330.50" y1="61.00" x2="2350.00" y2="61.00" stroke-width="2.4"/><line x1="526.20" y1="1342.40" x2="526.20" y2="1354.00" stroke-width="2.4"/><line x1="526.20" y1="61.00" x2="526.20" y2="49.00" stroke-width="2.4"/><line x1="593.59" y1="1342.40" x2="593.59" y2="1354.00" stroke-width="2.4"/><line x1="593.59" y1="61.00" x2="593.59" y2="49.00" stroke-width="2.4"/><line x1="641.41" y1="1342.40" x2="641.41" y2="1354.00" stroke-width="2.4"/><line x1="641.41" y1="61.00" x2="641.41" y2="49.00" stroke-width="2.4"/><line x1="678.50" y1="1342.40" x2="678.50" y2="1354.00" stroke-width="2.4"/><line x1="678.50" y1="61.00" x2="678.50" y2="49.00" stroke-width="2.4"/><line x1="708.80" y1="1342.40" x2="708.80" y2="1354.00" stroke-width="2.4"/><line x1="708.80" y1="61.00" x2="708.80" y2="49.00" stroke-width="2.4"/><line x1="734.42" y1="1342.40" x2="734.42" y2="1354.00" stroke-width="2.4"/><line x1="734.42" y1="61.00" x2="734.42" y2="49.00" stroke-width="2.4"/><line x1="756.61" y1="1342.40" x2="756.61" y2="1354.00" stroke-width="2.4"/><line x1="756.61" y1="61.00" x2="756.61" y2="49.00" stroke-width="2.4"/><line x1="776.19" y1="1342.40" x2="776.19" y2="1354.00" stroke-width="2.4"/><line x1="776.19" y1="61.00" x2="776.19" y2="49.00" stroke-width="2.4"/><line x1="909.81" y1="1342.40" x2="909.81" y2="1354.00" stroke-width="2.4"/><line x1="909.81" y1="61.00" x2="909.81" y2="49.00" stroke-width="2.4"/><line x1="977.73" y1="1342.40" x2="977.73" y2="1354.00" stroke-width="2.4"/><line x1="977.73" y1="61.00" x2="977.73" y2="49.00" stroke-width="2.4"/><line x1="1025.91" y1="1342.40" x2="1025.91" y2="1354.00" stroke-width="2.4"/><line x1="1025.91" y1="61.00" x2="1025.91" y2="49.00" stroke-width="2.4"/><line x1="1063.29" y1="1342.40" x2="1063.29" y2="1354.00" stroke-width="2.4"/><line x1="1063.29" y1="61.00" x2="1063.29" y2="49.00" stroke-width="2.4"/><line x1="1093.83" y1="1342.40" x2="1093.83" y2="1354.00" stroke-width="2.4"/><line x1="1093.83" y1="61.00" x2="1093.83" y2="49.00" stroke-width="2.4"/><line x1="1119.65" y1="1342.40" x2="1119.65" y2="1354.00" stroke-width="2.4"/><line x1="1119.65" y1="61.00" x2="1119.65" y2="49.00" stroke-width="2.4"/><line x1="1142.02" y1="1342.40" x2="1142.02" y2="1354.00" stroke-width="2.4"/><line x1="1142.02" y1="61.00" x2="1142.02" y2="49.00" stroke-width="2.4"/><line x1="1161.75" y1="1342.40" x2="1161.75" y2="1354.00" stroke-width="2.4"/><line x1="1161.75" y1="61.00" x2="1161.75" y2="49.00" stroke-width="2.4"/><line x1="1294.63" y1="1342.40" x2="1294.63" y2="1354.00" stroke-width="2.4"/><line x1="1294.63" y1="61.00" x2="1294.63" y2="49.00" stroke-width="2.4"/><line x1="1362.04" y1="1342.40" x2="1362.04" y2="1354.00" stroke-width="2.4"/><line x1="1362.04" y1="61.00" x2="1362.04" y2="49.00" stroke-width="2.4"/><line x1="1409.87" y1="1342.40" x2="1409.87" y2="1354.00" stroke-width="2.4"/><line x1="1409.87" y1="61.00" x2="1409.87" y2="49.00" stroke-width="2.4"/><line x1="1446.97" y1="1342.40" x2="1446.97" y2="1354.00" stroke-width="2.4"/><line x1="1446.97" y1="61.00" x2="1446.97" y2="49.00" stroke-width="2.4"/><line x1="1477.28" y1="1342.40" x2="1477.28" y2="1354.00" stroke-width="2.4"/><line x1="1477.28" y1="61.00" x2="1477.28" y2="49.00" stroke-width="2.4"/><line x1="1502.90" y1="1342.40" x2="1502.90" y2="1354.00" stroke-width="2.4"/><line x1="1502.90" y1="61.00" x2="1502.90" y2="49.00" stroke-width="2.4"/><line x1="1525.10" y1="1342.40" x2="1525.10" y2="1354.00" stroke-width="2.4"/><line x1="1525.10" y1="61.00" x2="1525.10" y2="49.00" stroke-width="2.4"/><line x1="1544.68" y1="1342.40" x2="1544.68" y2="1354.00" stroke-width="2.4"/><line x1="1544.68" y1="61.00" x2="1544.68" y2="49.00" stroke-width="2.4"/><line x1="1677.43" y1="1342.40" x2="1677.43" y2="1354.00" stroke-width="2.4"/><line x1="1677.43" y1="61.00" x2="1677.43" y2="49.00" stroke-width="2.4"/><line x1="1744.84" y1="1342.40" x2="1744.84" y2="1354.00" stroke-width="2.4"/><line x1="1744.84" y1="61.00" x2="1744.84" y2="49.00" stroke-width="2.4"/><line x1="1792.67" y1="1342.40" x2="1792.67" y2="1354.00" stroke-width="2.4"/><line x1="1792.67" y1="61.00" x2="1792.67" y2="49.00" stroke-width="2.4"/><line x1="1829.77" y1="1342.40" x2="1829.77" y2="1354.00" stroke-width="2.4"/><line x1="1829.77" y1="61.00" x2="1829.77" y2="49.00" stroke-width="2.4"/><line x1="1860.08" y1="1342.40" x2="1860.08" y2="1354.00" stroke-width="2.4"/><line x1="1860.08" y1="61.00" x2="1860.08" y2="49.00" stroke-width="2.4"/><line x1="1885.70" y1="1342.40" x2="1885.70" y2="1354.00" stroke-width="2.4"/><line x1="1885.70" y1="61.00" x2="1885.70" y2="49.00" stroke-width="2.4"/><line x1="1907.90" y1="1342.40" x2="1907.90" y2="1354.00" stroke-width="2.4"/><line x1="1907.90" y1="61.00" x2="1907.90" y2="49.00" stroke-width="2.4"/><line x1="1927.48" y1="1342.40" x2="1927.48" y2="1354.00" stroke-width="2.4"/><line x1="1927.48" y1="61.00" x2="1927.48" y2="49.00" stroke-width="2.4"/><line x1="2061.05" y1="1342.40" x2="2061.05" y2="1354.00" stroke-width="2.4"/><line x1="2061.05" y1="61.00" x2="2061.05" y2="49.00" stroke-width="2.4"/><line x1="2128.93" y1="1342.40" x2="2128.93" y2="1354.00" stroke-width="2.4"/><line x1="2128.93" y1="61.00" x2="2128.93" y2="49.00" stroke-width="2.4"/><line x1="2177.09" y1="1342.40" x2="2177.09" y2="1354.00" stroke-width="2.4"/><line x1="2177.09" y1="61.00" x2="2177.09" y2="49.00" stroke-width="2.4"/><line x1="2214.45" y1="1342.40" x2="2214.45" y2="1354.00" stroke-width="2.4"/><line x1="2214.45" y1="61.00" x2="2214.45" y2="49.00" stroke-width="2.4"/><line x1="2244.98" y1="1342.40" x2="2244.98" y2="1354.00" stroke-width="2.4"/><line x1="2244.98" y1="61.00" x2="2244.98" y2="49.00" stroke-width="2.4"/><line x1="2270.79" y1="1342.40" x2="2270.79" y2="1354.00" stroke-width="2.4"/><line x1="2270.79" y1="61.00" x2="2270.79" y2="49.00" stroke-width="2.4"/><line x1="2293.14" y1="1342.40" x2="2293.14" y2="1354.00" stroke-width="2.4"/><line x1="2293.14" y1="61.00" x2="2293.14" y2="49.00" stroke-width="2.4"/><line x1="2312.86" y1="1342.40" x2="2312.86" y2="1354.00" stroke-width="2.4"/><line x1="2312.86" y1="61.00" x2="2312.86" y2="49.00" stroke-width="2.4"/><line x1="411.00" y1="1342.40" x2="411.00" y2="1362.00" stroke-width="2.4"/><line x1="793.70" y1="1342.40" x2="793.70" y2="1362.00" stroke-width="2.4"/><line x1="1179.40" y1="1342.40" x2="1179.40" y2="1362.00" stroke-width="2.4"/><line x1="1562.20" y1="1342.40" x2="1562.20" y2="1362.00" stroke-width="2.4"/><line x1="1945.00" y1="1342.40" x2="1945.00" y2="1362.00" stroke-width="2.4"/><line x1="2330.50" y1="1342.40" x2="2330.50" y2="1362.00" stroke-width="2.4"/></g>
<g style="font-family:'Liberation Sans',Arial,sans-serif" fill="#000"><text transform="translate(344.5,236.2) scale(0.972,1)" text-anchor="end" font-size="92">180</text><text transform="translate(344.5,520.2) scale(0.972,1)" text-anchor="end" font-size="92">140</text><text transform="translate(344.5,804.1) scale(0.972,1)" text-anchor="end" font-size="92">100</text><text transform="translate(344.5,1088.0) scale(1.006,1)" text-anchor="end" font-size="92">60</text><text transform="translate(344.5,1374.3) scale(1.035,1)" text-anchor="end" font-size="92">20</text><text transform="translate(332.9,1492) scale(0.987,1)" font-size="91">10</text><text transform="translate(430.0,1464.2) scale(1.36,1)" font-size="61">-</text><text x="453.5" y="1464.2" font-size="64">5</text><text transform="translate(715.6,1492) scale(0.987,1)" font-size="91">10</text><text transform="translate(812.7,1464.2) scale(1.36,1)" font-size="61">-</text><text x="836.2" y="1464.2" font-size="64">4</text><text transform="translate(1101.3,1492) scale(0.987,1)" font-size="91">10</text><text transform="translate(1198.4,1464.2) scale(1.36,1)" font-size="61">-</text><text x="1221.9" y="1464.2" font-size="64">3</text><text transform="translate(1484.1,1492) scale(0.987,1)" font-size="91">10</text><text transform="translate(1581.2,1464.2) scale(1.36,1)" font-size="61">-</text><text x="1604.7" y="1464.2" font-size="64">2</text><text transform="translate(1866.9,1492) scale(0.987,1)" font-size="91">10</text><text transform="translate(1964.0,1464.2) scale(1.36,1)" font-size="61">-</text><text x="1987.5" y="1464.2" font-size="64">1</text><text transform="translate(2262.8,1492) scale(0.987,1)" font-size="91">10</text><text x="2362.6" y="1464.2" font-size="64">0</text><text transform="translate(118.1,1120.2) rotate(-90) scale(0.9711,1)" font-size="113">Elasticity [mN/m]</text><text x="1070.7" y="1665" font-size="113">c</text><text transform="translate(1140,1700.6) scale(1.005,1)" font-size="78">chitosan</text><text transform="translate(1471.75,1645.3) scale(1.0435,1)" font-size="115">[g/L]</text><text x="2073.9" y="1014.1" font-size="57" fill="#00c090">0.005</text><text x="2073.9" y="1076.9" font-size="57" fill="#c86400">0.008</text><text x="2073.9" y="1141.5" font-size="57" fill="#8080ff">0.02</text><text x="2073.9" y="1209.1" font-size="57" fill="#c000c8">0.05</text><text x="2073.9" y="1274.7" font-size="57" fill="#00c000">0.95</text><text x="1661" y="1272.9" font-size="57">Frequency [Hz]</text></g>
</svg>
</body></html>
